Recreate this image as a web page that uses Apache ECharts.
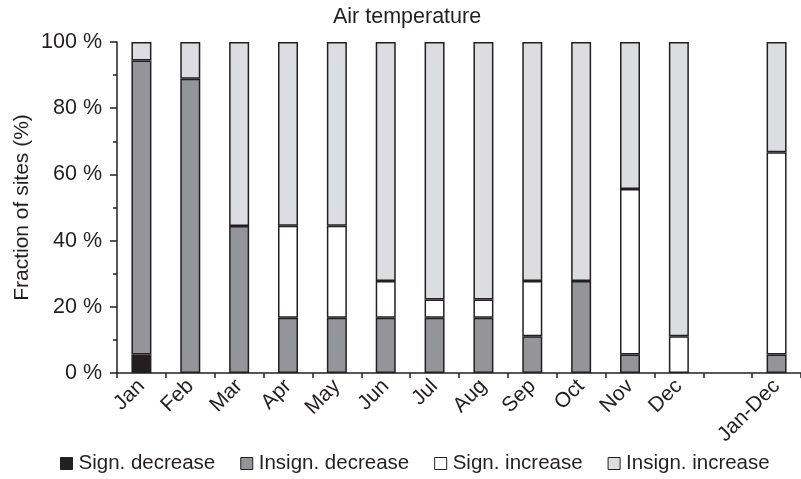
<!DOCTYPE html>
<html>
<head>
<meta charset="utf-8">
<script src="https://cdn.jsdelivr.net/npm/echarts@6/dist/echarts.min.js"></script>
<style>
  html, body { margin: 0; padding: 0; background: #fff; }
  #chart { width: 801px; height: 479px; }
</style>
</head>
<body>
<div id="chart"></div>
<script>
// Month categories; the empty slot separates the monthly bars from the annual one.
const categories = ['Jan', 'Feb', 'Mar', 'Apr', 'May', 'Jun', 'Jul', 'Aug', 'Sep', 'Oct', 'Nov', 'Dec', '', 'Jan-Dec'];

// Share of sites (%) per trend class
const signDecrease   = [5.56, 0, 0, 0, 0, 0, 0, 0, 0, 0, 0, 0, null, 0];
const insignDecrease = [88.88, 88.89, 44.44, 16.67, 16.67, 16.67, 16.67, 16.67, 11.11, 27.78, 5.56, 0, null, 5.56];
const signIncrease   = [0, 0, 0, 27.78, 27.78, 11.11, 5.55, 5.55, 16.67, 0, 50, 11.11, null, 61.11];
const insignIncrease = [5.56, 11.11, 55.56, 55.55, 55.55, 72.22, 77.78, 77.78, 72.22, 72.22, 44.44, 88.89, null, 33.33];

const yTicks = [0, 20, 40, 60, 80, 100];

const ink = '#231f20';
const font = 'Liberation Sans, Arial, sans-serif';

function toBars(arr) {
  return arr.map(v => (v === null || v === 0) ? '-' : v);
}

const seriesDefs = [
  { name: 'Sign. decrease', data: signDecrease, color: '#231f20' },
  { name: 'Insign. decrease', data: insignDecrease, color: '#939598' },
  { name: 'Sign. increase', data: signIncrease, color: '#ffffff' },
  { name: 'Insign. increase', data: insignIncrease, color: '#dcddde' }
];

const chart = echarts.init(document.getElementById('chart'), null, { renderer: 'canvas' });

chart.setOption({
  animation: false,
  backgroundColor: '#ffffff',
  textStyle: { fontFamily: font, color: ink },
  title: {
    text: 'Air temperature',
    left: 333,
    top: 6,
    padding: 0,
    textStyle: { fontFamily: font, fontSize: 21.5, fontWeight: 'normal', color: ink }
  },
  legend: {
    top: 453,
    left: 60,
    icon: 'rect',
    itemWidth: 12,
    itemHeight: 12,
    itemGap: 25,
    padding: 0,
    textStyle: { fontFamily: font, fontSize: 20.5, color: ink, padding: [0, 0, 0, 1] },
    itemStyle: { borderColor: ink, borderWidth: 1 },
    data: seriesDefs.map(s => s.name)
  },
  grid: { left: 117, right: -2, top: 42, bottom: 106 },
  xAxis: {
    type: 'category',
    data: categories,
    boundaryGap: true,
    axisLine: { lineStyle: { color: ink, width: 1.5 } },
    axisTick: { show: true, alignWithLabel: false, inside: false, length: 5, lineStyle: { color: ink, width: 1.5 } },
    axisLabel: { rotate: 45, fontSize: 21, color: ink, fontFamily: font, margin: 10, interval: 0 },
    splitLine: { show: false }
  },
  yAxis: {
    type: 'value',
    min: yTicks[0],
    max: yTicks[yTicks.length - 1],
    interval: 20,
    name: 'Fraction of sites (%)',
    nameLocation: 'middle',
    nameGap: 84,
    nameMoveOverlap: false,
    nameTextStyle: { fontFamily: font, fontSize: 21, color: ink },
    axisLine: { show: true, lineStyle: { color: ink, width: 1.5 } },
    axisTick: { show: true, inside: false, length: 7, lineStyle: { color: ink, width: 1.5 } },
    minorTick: { show: true, splitNumber: 2, length: 4, lineStyle: { color: ink, width: 1.5 } },
    axisLabel: { formatter: '{value} %', fontSize: 21.5, color: ink, fontFamily: font, margin: 15 },
    splitLine: { show: false }
  },
  series: seriesDefs.map(s => ({
    name: s.name,
    type: 'bar',
    stack: 'sites',
    barWidth: 20,
    data: toBars(s.data),
    itemStyle: { color: s.color, borderColor: ink, borderWidth: 1.5 },
    emphasis: { disabled: true }
  }))
});
</script>
</body>
</html>
